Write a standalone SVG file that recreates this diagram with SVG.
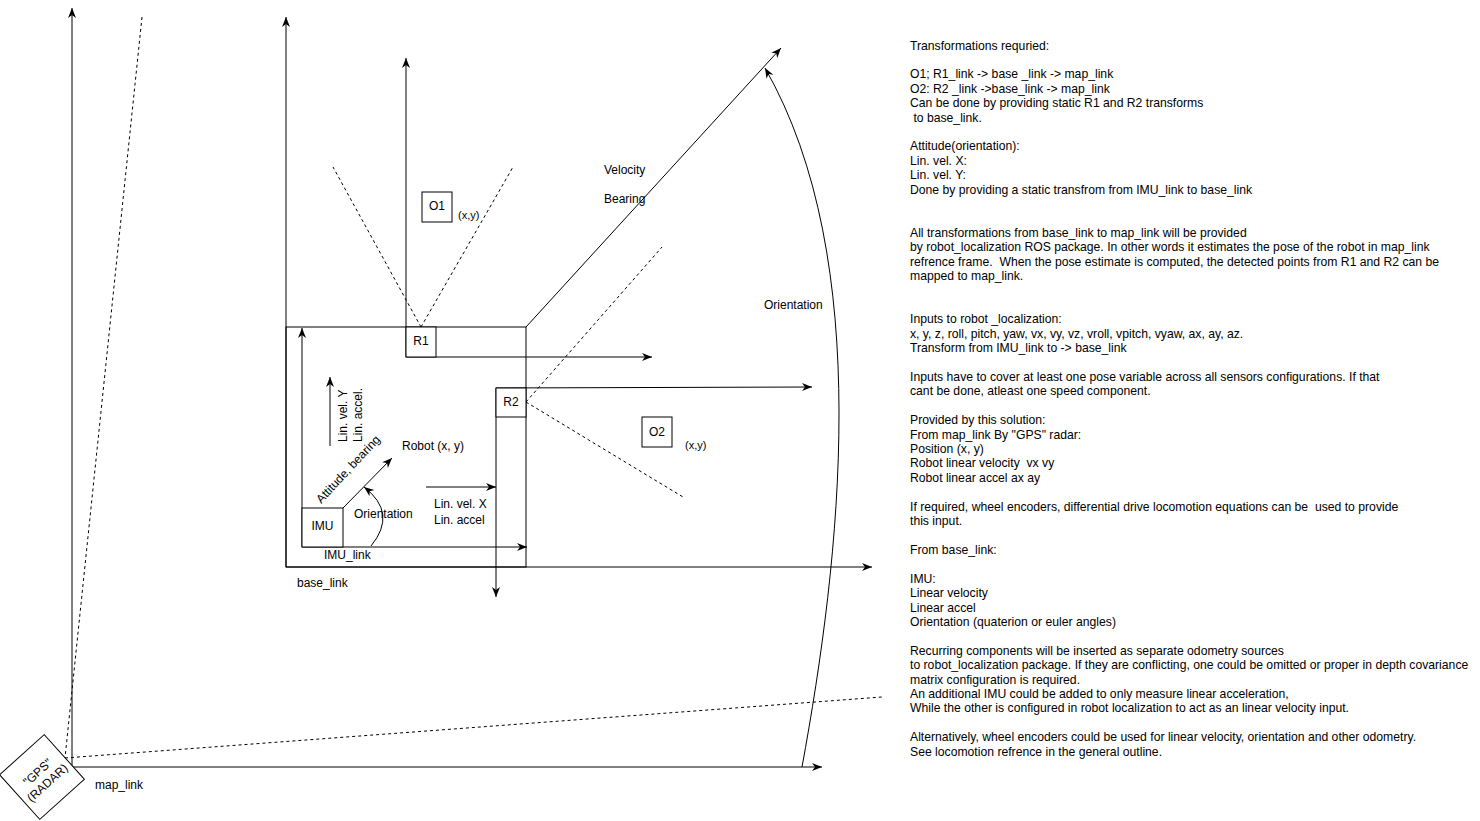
<svg xmlns="http://www.w3.org/2000/svg" width="1480" height="821" viewBox="0 0 1480 821">
<style>
text{font-family:"Liberation Sans",Arial,sans-serif;font-size:12px;fill:#000}
.s{font-size:11px}
#notes text{font-size:12.2px;white-space:pre}
.ln{stroke:#000;stroke-width:1;fill:none}
.ar{stroke:#000;stroke-width:1;fill:none;marker-end:url(#ah)}
.dash{stroke:#000;stroke-width:1;fill:none;stroke-dasharray:3 3}
.box{fill:#fff;stroke:#000;stroke-width:1}
.nb{fill:none;stroke:#000;stroke-width:1}
</style>
<defs>
<marker id="ah" markerUnits="userSpaceOnUse" markerWidth="12" markerHeight="10" refX="10" refY="5" orient="auto">
<path d="M0,1 L10,5 L0,9 L3,5 Z" fill="#000"/>
</marker>
</defs>
<rect width="1480" height="821" fill="#fff"/>

<g id="base_link_box">
<rect class="nb" x="286" y="327" width="240" height="240"/>
</g>

<g id="connectors">
<line class="ar" x1="72" y1="767" x2="72" y2="8"/>
<line class="ar" x1="72" y1="767" x2="822" y2="767"/>
<line class="dash" x1="142" y1="17" x2="65" y2="758"/>
<line class="dash" x1="65" y1="758" x2="882" y2="697"/>
<path class="ar" d="M802,767 C840,560 875,260 765,68"/>
<line class="ar" x1="286" y1="567" x2="286" y2="17"/>
<line class="ar" x1="286" y1="567" x2="872" y2="567"/>
<line class="ar" x1="526" y1="327" x2="781" y2="48"/>
<line class="ar" x1="302" y1="547" x2="302" y2="328"/>
<line class="ar" x1="302" y1="547" x2="527" y2="547"/>
<line class="ar" x1="343" y1="508" x2="392" y2="458"/>
<line class="ar" x1="330" y1="446" x2="330" y2="377"/>
<path class="ar" d="M371,546 Q398,513 364,487"/>
<line class="ar" x1="426" y1="487" x2="496" y2="487"/>
<line class="ar" x1="406" y1="357" x2="406" y2="58"/>
<line class="ar" x1="406" y1="357" x2="652" y2="357"/>
<line class="dash" x1="421" y1="327" x2="333" y2="167"/>
<line class="dash" x1="421" y1="327" x2="513" y2="167"/>
<line class="ar" x1="496" y1="388" x2="496" y2="597"/>
<line class="ar" x1="496" y1="388" x2="812" y2="387"/>
<line class="dash" x1="526" y1="402" x2="662" y2="247"/>
<line class="dash" x1="526" y1="402" x2="683" y2="497"/>
</g>

<g id="gps">
<g transform="translate(42,777) rotate(-42)">
<rect class="box" x="-30" y="-30" width="60" height="60"/>
<text x="0" y="-2.5" text-anchor="middle">"GPS"</text>
<text x="0" y="12" text-anchor="middle">(RADAR)</text>
</g>
</g>

<g id="imu">
<rect class="box" x="302" y="508" width="41" height="39"/>
<text x="322.5" y="530" text-anchor="middle">IMU</text>
</g>

<g id="r1">
<rect class="box" x="406" y="327" width="30" height="30"/>
<text x="421" y="345" text-anchor="middle">R1</text>
</g>

<g id="r2">
<rect class="box" x="496" y="388" width="30" height="29"/>
<text x="511" y="406" text-anchor="middle">R2</text>
</g>

<g id="o1">
<rect class="box" x="422" y="192" width="30" height="30"/>
<text x="437" y="210" text-anchor="middle">O1</text>
<text class="s" x="458" y="219">(x,y)</text>
</g>

<g id="o2">
<rect class="box" x="642" y="417" width="30" height="30"/>
<text x="657" y="436" text-anchor="middle">O2</text>
<text class="s" x="685" y="449">(x,y)</text>
</g>

<g id="labels">
<text x="95" y="789">map_link</text>
<text x="324" y="559">IMU_link</text>
<text x="297" y="587">base_link</text>
<text x="354" y="518">Orientation</text>
<text x="402" y="450">Robot (x, y)</text>
<text x="434" y="508">Lin. vel. X</text>
<text x="434" y="524">Lin. accel</text>
<text transform="translate(347,442) rotate(-90)">Lin. vel. Y</text>
<text transform="translate(362,442) rotate(-90)">Lin. accel.</text>
<text transform="translate(351,472) rotate(-47)" text-anchor="middle">Attitude, bearing</text>
<text x="604" y="174">Velocity</text>
<text x="604" y="203">Bearing</text>
<text x="764" y="309">Orientation</text>
</g>

<g id="notes">
<text x="910" y="49.5">Transformations requried:</text>
<text x="910" y="78.3">O1; R1_link -&gt; base _link -&gt; map_link</text>
<text x="910" y="92.7">O2: R2 _link -&gt;base_link -&gt; map_link</text>
<text x="910" y="107.1">Can be done by providing static R1 and R2 transforms</text>
<text x="910" y="121.6"> to base_link.</text>
<text x="910" y="150.4">Attitude(orientation):</text>
<text x="910" y="164.8">Lin. vel. X:</text>
<text x="910" y="179.2">Lin. vel. Y:</text>
<text x="910" y="193.6">Done by providing a static transfrom from IMU_link to base_link</text>
<text x="910" y="236.8">All transformations from base_link to map_link will be provided</text>
<text x="910" y="251.2">by robot_localization ROS package. In other words it estimates the pose of the robot in map_link</text>
<text x="910" y="265.7">refrence frame.  When the pose estimate is computed, the detected points from R1 and R2 can be</text>
<text x="910" y="280.1">mapped to map_link.</text>
<text x="910" y="323.3">Inputs to robot _localization:</text>
<text x="910" y="337.7">x, y, z, roll, pitch, yaw, vx, vy, vz, vroll, vpitch, vyaw, ax, ay, az.</text>
<text x="910" y="352.1">Transform from IMU_link to -&gt; base_link</text>
<text x="910" y="380.9">Inputs have to cover at least one pose variable across all sensors configurations. If that</text>
<text x="910" y="395.3">cant be done, atleast one speed component.</text>
<text x="910" y="424.2">Provided by this solution:</text>
<text x="910" y="438.6">From map_link By "GPS" radar:</text>
<text x="910" y="453">Position (x, y)</text>
<text x="910" y="467.4">Robot linear velocity  vx vy</text>
<text x="910" y="481.8">Robot linear accel ax ay</text>
<text x="910" y="510.6">If required, wheel encoders, differential drive locomotion equations can be  used to provide</text>
<text x="910" y="525">this input.</text>
<text x="910" y="553.9">From base_link:</text>
<text x="910" y="582.7">IMU:</text>
<text x="910" y="597.1">Linear velocity</text>
<text x="910" y="611.5">Linear accel</text>
<text x="910" y="625.9">Orientation (quaterion or euler angles)</text>
<text x="910" y="654.7">Recurring components will be inserted as separate odometry sources</text>
<text x="910" y="669.1">to robot_localization package. If they are conflicting, one could be omitted or proper in depth covariance</text>
<text x="910" y="683.5">matrix configuration is required.</text>
<text x="910" y="697.9">An additional IMU could be added to only measure linear acceleration,</text>
<text x="910" y="712.4">While the other is configured in robot localization to act as an linear velocity input.</text>
<text x="910" y="741.2">Alternatively, wheel encoders could be used for linear velocity, orientation and other odometry.</text>
<text x="910" y="755.6">See locomotion refrence in the general outline.</text>
</g>
</svg>
